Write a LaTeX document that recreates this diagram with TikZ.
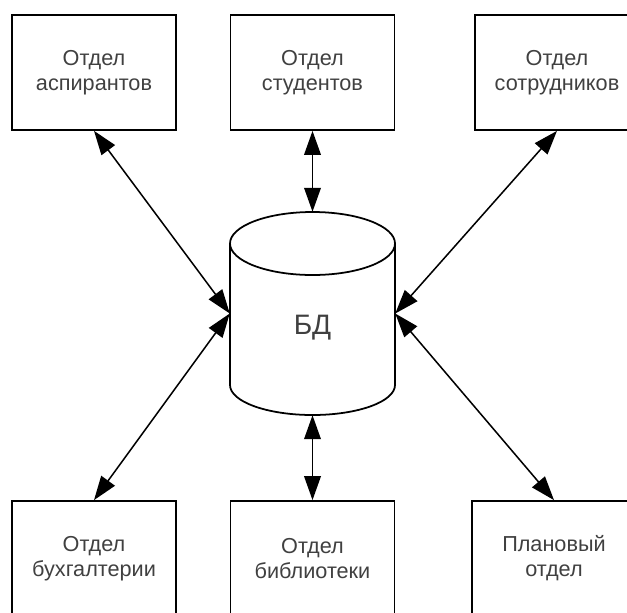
\documentclass[tikz,border=0pt]{standalone}
\usepackage{fontspec}
\setmainfont{Liberation Sans}
\usetikzlibrary{arrows.meta}
\begin{document}
\begin{tikzpicture}[x=0.03cm,y=-0.03cm]

    \tikzset{
      dept/.style={
        draw,
        line width=1.5pt,
        minimum width=4.92cm,
        minimum height=3.45cm,
        align=center,
        text=black!75,
        font=\fontsize{18.5}{21.5}\selectfont,
      },
      link/.style={
        line width=1.3pt,
        {Triangle[length=0.72cm,width=0.5cm]}-{Triangle[length=0.72cm,width=0.5cm]},
      },
    }
    \useasboundingbox (0,0) rectangle (627,612);
    \clip (0,0) rectangle (627,612);

    % cylinder of the database
    \draw[line width=1.5pt] (230,243.5) -- (230,385)
      arc[start angle=180,end angle=0,x radius=82.5,y radius=30] -- (395,243.5);
    \draw[line width=1.5pt] (312.5,243.5) ellipse[x radius=82.5,y radius=31.5];
    \node[minimum width=4.95cm,minimum height=6.09cm] (db) at (312.5,313.5) {};
    \node[text=black!75,font=\fontsize{24}{28}\selectfont] (dbname)
      at ([yshift=-0.42cm]db.center) {БД};

    \node[dept] (aspir) at (94,72.5) {Отдел\\аспирантов};
    \node[dept] (stud) at (312.5,72.5) {Отдел\\студентов};
    \node[dept] (sotr) at (557,72.5) {Отдел\\сотрудников};
    \node[dept] (buh) at (94,558.5) {Отдел\\бухгалтерии};
    \node[dept] (bibl) at (312.5,558.5) {Отдел\\библиотеки};
    \node[dept] (plan) at (554,558.5) {Плановый\\отдел};

    \draw[link] (aspir.south) -- (db.west);
    \draw[link] (stud.south) -- (db.north);
    \draw[link] (sotr.south) -- (db.east);
    \draw[link] (buh.north) -- (db.west);
    \draw[link] (bibl.north) -- (db.south);
    \draw[link] (plan.north) -- (db.east);

\end{tikzpicture}
\end{document}
